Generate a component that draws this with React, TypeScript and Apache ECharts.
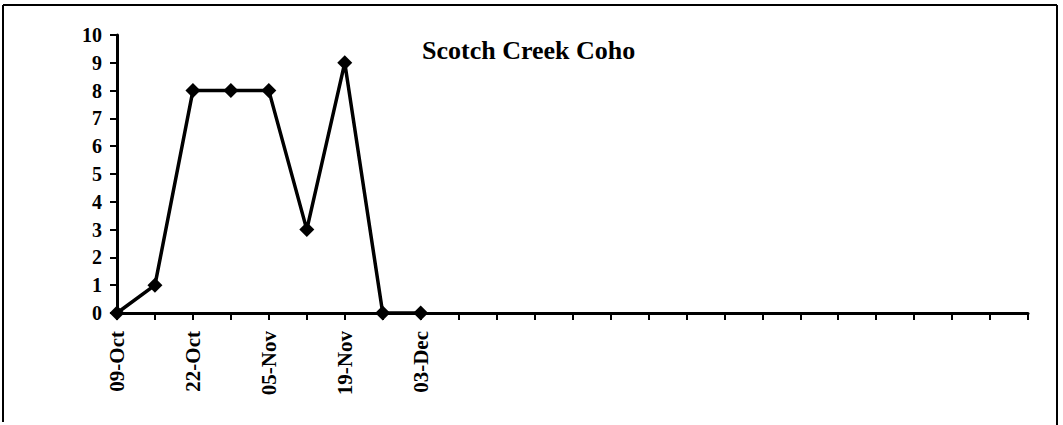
import React, { useEffect, useRef } from "react";
import * as echarts from "echarts";

const categories = [
  "09-Oct", "15-Oct", "22-Oct", "29-Oct", "05-Nov", "12-Nov", "19-Nov", "26-Nov", "03-Dec",
  "", "", "", "", "", "", "", "", "", "", "", "", "", "", "", "",
];
const shownLabels = ["09-Oct", "22-Oct", "05-Nov", "19-Nov", "03-Dec"];
const cohoCounts = [0, 1, 8, 8, 8, 3, 9, 0, 0];
const yTicks = [0, 1, 2, 3, 4, 5, 6, 7, 8, 9, 10];

const FONT = "'Liberation Serif', 'Times New Roman', serif";

export default function App() {
  const ref = useRef<HTMLDivElement>(null);
  useEffect(() => {
    document.body.style.margin = "0";
    const chart = echarts.init(ref.current!, null, { renderer: "svg" });
    chart.setOption({
      animation: false,
      backgroundColor: "#ffffff",
      title: {
        text: "Scotch Creek Coho",
        left: 417,
        top: 32,
        textStyle: { fontFamily: FONT, fontWeight: "bold", fontSize: 26, color: "#000" },
      },
      grid: { left: 117, right: 35, top: 35, bottom: 112 },
      xAxis: {
        type: "category",
        data: categories,
        boundaryGap: false,
        axisLine: { lineStyle: { color: "#000", width: 3 } },
        axisTick: { show: true, length: 7, lineStyle: { color: "#000", width: 2 }, interval: 0 },
        axisLabel: {
          interval: 0,
          rotate: 90,
          margin: 18,
          color: "#000",
          fontFamily: FONT,
          fontWeight: "bold",
          fontSize: 21,
          formatter: (v: string) => (shownLabels.indexOf(v) >= 0 ? v : ""),
        },
        splitLine: { show: false },
      },
      yAxis: {
        type: "value",
        min: yTicks[0],
        max: yTicks[yTicks.length - 1],
        interval: 1,
        axisLine: { show: true, lineStyle: { color: "#000", width: 3 } },
        axisTick: { show: true, length: 7, lineStyle: { color: "#000", width: 2 } },
        axisLabel: {
          margin: 15,
          color: "#000",
          fontFamily: FONT,
          fontWeight: "bold",
          fontSize: 20,
        },
        splitLine: { show: false },
      },
      series: [
        {
          type: "line",
          data: cohoCounts,
          symbol: "diamond",
          symbolSize: 15,
          lineStyle: { color: "#000", width: 3.5 },
          itemStyle: { color: "#000" },
          z: 5,
        },
      ],
      graphic: [
        { type: "line", shape: { x1: 3, y1: 5, x2: 1057, y2: 5 }, style: { stroke: "#000", lineWidth: 2 } },
        { type: "line", shape: { x1: 3, y1: 5, x2: 3, y2: 422 }, style: { stroke: "#000", lineWidth: 2 } },
        { type: "line", shape: { x1: 1057, y1: 5, x2: 1057, y2: 425 }, style: { stroke: "#000", lineWidth: 2 } },
      ],
    });
    return () => chart.dispose();
  }, []);
  return <div ref={ref} style={{ width: 1063, height: 425 }} />;
}
